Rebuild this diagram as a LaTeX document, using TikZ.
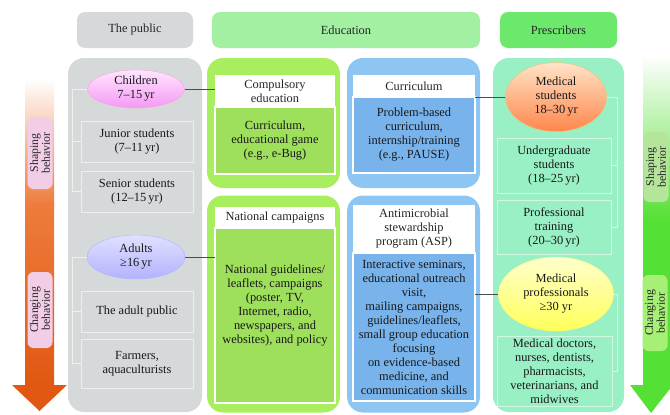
\documentclass[tikz,border=0pt]{standalone}
\usepackage{fontspec}
\setmainfont{Liberation Serif}
\usepackage{xcolor}
\usetikzlibrary{positioning,shapes.geometric}

\definecolor{pubgray}{HTML}{D5D9D9}
\definecolor{eduhead}{HTML}{A3F0A3}
\definecolor{prehead}{HTML}{6CE86C}
\definecolor{limepanel}{HTML}{A8EE5E}
\definecolor{limebody}{HTML}{9EDF5C}
\definecolor{bluepanel}{HTML}{8DC6F2}
\definecolor{bluebody}{HTML}{78B3EC}
\definecolor{mintpanel}{HTML}{98F0C4}
\definecolor{orangemid}{HTML}{EE7C3C}
\definecolor{arroworange}{HTML}{E05812}
\definecolor{arrowgreen}{HTML}{55E035}
\definecolor{phasepink}{HTML}{F2CDE6}
\definecolor{shapegreen}{HTML}{B5E59A}
\definecolor{changegreen}{HTML}{A5F075}

\begin{document}
\begin{tikzpicture}[
        x=1pt, y=-1pt,
        font=\fontsize{12.4}{14}\selectfont,
        header/.style={rectangle, rounded corners=8pt, minimum height=36pt, inner sep=0pt, text=black!85},
        panel/.style={rectangle, rounded corners=16pt, minimum width=133pt, inner sep=0pt},
        titlebox/.style={rectangle, fill=white, inner sep=1pt, outer sep=0pt, align=center, text=black!85},
        bodybox/.style={rectangle, draw=white, line width=1.6pt, inner sep=1pt, outer sep=0pt, align=center, text=black!90},
        agebox/.style={rectangle, draw=white!55!pubgray, line width=0.8pt, inner sep=1pt, align=center, text=black!90},
        group/.style={ellipse, inner sep=0pt, align=center, text=black!90},
        link/.style={draw=black!70, line width=0.9pt},
        bracket/.style={draw=white!60!pubgray, line width=0.8pt},
        prebracket/.style={draw=white!55!mintpanel, line width=0.8pt},
        phase/.style={rectangle, rounded corners=6pt, rotate=90, minimum height=25pt, inner sep=0.5pt, align=center, text=black!85, font=\fontsize{11.8}{11.8}\selectfont}
    ]
    \useasboundingbox (0,0) rectangle (670,415);

    % column headers
    \node[header, fill=pubgray, minimum width=116pt] (hpub) at (135,30) {The public};
    \node[header, fill=eduhead, minimum width=268pt] (hedu) at (346,30) {Education};
    \node[header, fill=prehead, minimum width=117pt] (hpre) at (558.5,30) {Prescribers};

    % background panels
    \node[panel, fill=pubgray, minimum width=134pt, minimum height=354pt] (ppub) at (135,235) {};
    \node[panel, fill=limepanel, minimum height=130pt] (pcomp) at (273.5,123) {};
    \node[panel, fill=bluepanel, minimum height=130pt] (pcurr) at (413.5,123) {};
    \node[panel, fill=limepanel, minimum height=217pt] (pnat) at (273.5,304) {};
    \node[panel, fill=bluepanel, minimum height=217pt] (pasp) at (413.5,304) {};
    \node[panel, fill=mintpanel, minimum width=131pt, minimum height=354pt] (ppre) at (558.5,235) {};

    % education boxes
    \node[titlebox, minimum width=120pt, minimum height=32pt] (comptitle) at (275,91) {Compulsory\\education};
    \node[bodybox, fill=limebody, minimum width=120pt, minimum height=67pt, below=0pt of comptitle] (compbody) {Curriculum,\\educational game\\(e.g., e-Bug)};

    \node[titlebox, minimum width=122pt, minimum height=22pt] (currtitle) at (414,86) {Curriculum};
    \node[bodybox, fill=bluebody, minimum width=122pt, minimum height=76pt, below=0pt of currtitle] (currbody) {Problem-based\\curriculum,\\internship/training\\(e.g., PAUSE)};

    \node[titlebox, minimum width=120pt, minimum height=21pt] (nattitle) at (275,217.5) {National campaigns};
    \node[bodybox, fill=limebody, minimum width=120pt, minimum height=175pt, below=0pt of nattitle] (natbody) {};
    \node[align=center, text=black!90] (nattext) at ([yshift=9.5pt]natbody.center) {National guidelines/\\leaflets, campaigns\\(poster, TV,\\Internet, radio,\\newspapers, and\\websites), and policy};

    \node[titlebox, minimum width=122pt, minimum height=48pt] (asptitle) at (414,229) {Antimicrobial\\stewardship\\program (ASP)};
    \node[bodybox, fill=bluebody, minimum width=122pt, minimum height=148pt, below=0pt of asptitle] (aspbody) {Interactive seminars,\\educational outreach\\visit,\\mailing campaigns,\\guidelines/leaflets,\\small group education\\focusing\\on evidence-based\\medicine, and\\communication skills};

    % the public
    \node[group, top color=magenta!10!white, bottom color=violet!20!magenta!40!white, draw=magenta!35!white, minimum width=97pt, minimum height=38pt] (child) at (136,89) {Children\\7–15\,yr};
    \node[agebox, minimum width=112pt, minimum height=41pt] (junior) at (137,141.5) {Junior students\\(7–11\,yr)};
    \node[agebox, minimum width=112pt, minimum height=41pt] (senior) at (137,191.5) {Senior students\\(12–15\,yr)};
    \node[group, top color=blue!12!white, bottom color=blue!30!white, draw=blue!30!white, minimum width=98pt, minimum height=44pt] (adult) at (136,257) {Adults\\≥16\,yr};
    \node[agebox, minimum width=112pt, minimum height=41pt] (adultpub) at (137,311.5) {The adult public};
    \node[agebox, minimum width=112pt, minimum height=49pt] (farmers) at (137,363.5) {Farmers,\\aquaculturists};

    \coordinate (pubrail) at (72,0);
    \draw[bracket] (child.west) -| (pubrail |- senior.west) -- (senior.west);
    \draw[bracket] (pubrail |- junior.west) -- (junior.west);
    \draw[bracket] (adult.west) -| (pubrail |- farmers.west) -- (farmers.west);
    \draw[bracket] (pubrail |- adultpub.west) -- (adultpub.west);

    % prescribers
    \node[group, top color=orange!22!white, bottom color=red!35!orange!70!white, draw=orange!55!white, minimum width=101pt, minimum height=69pt] (medstu) at (556,97) {Medical\\students\\18–30\,yr};
    \node[agebox, draw=white!55!mintpanel, minimum width=114pt, minimum height=55pt] (undergrad) at (554,165.5) {Undergraduate\\students\\(18–25\,yr)};
    \node[agebox, draw=white!55!mintpanel, minimum width=114pt, minimum height=54pt] (proftrain) at (554,227) {Professional\\training\\(20–30\,yr)};
    \node[group, top color=yellow!20!white, bottom color=yellow!65!white, draw=yellow!50!white, minimum width=115pt, minimum height=74pt] (medpro) at (556,294) {Medical\\professionals\\≥30 yr};
    \node[agebox, draw=white!55!mintpanel, minimum width=115pt, minimum height=70pt] (meddoc) at (554.5,371) {Medical doctors,\\nurses, dentists,\\pharmacists,\\veterinarians, and\\midwives};

    \coordinate (prerail) at (617,0);
    \draw[prebracket] (medstu.east) -| (prerail |- proftrain.east) -- (proftrain.east);
    \draw[prebracket] (prerail |- undergrad.east) -- (undergrad.east);
    \draw[prebracket] (medpro.east) -| (prerail |- meddoc.east) -- (meddoc.east);

    % links between columns
    \draw[link] (child.east) -- (child.east -| comptitle.west);
    \draw[link] (adult.east) -- (adult.east -| natbody.west);
    \draw[link] (medstu.west) -- (medstu.west -| currtitle.east);
    \draw[link] (medpro.west) -- (medpro.west -| aspbody.east);

    % side arrows
    \shade[top color=white, bottom color=orangemid] (25,78) rectangle (54,205);
    \shade[top color=orangemid, bottom color=arroworange] (25,204.5) rectangle (54,386);
    \fill[arroworange] (12,385) -- (67,385) -- (39.5,411) -- cycle;

    \shade[top color=white, bottom color=arrowgreen] (643,55) rectangle (671,220);
    \fill[arrowgreen] (643,219.5) rectangle (671,386);
    \fill[arrowgreen] (630,385) -- (673,385) -- (651,413) -- cycle;

    \node[phase, fill=phasepink, minimum width=72pt] (lshape) at (40,153) {Shaping\\behavior};
    \node[phase, fill=phasepink, minimum width=76pt] (lchange) at (40,310) {Changing\\behavior};
    \node[phase, fill=shapegreen, minimum width=70pt] (rshape) at (656,167) {Shaping\\behavior};
    \node[phase, fill=changegreen, minimum width=76pt] (rchange) at (655,313) {Changing\\behavior};

\end{tikzpicture}
\end{document}
